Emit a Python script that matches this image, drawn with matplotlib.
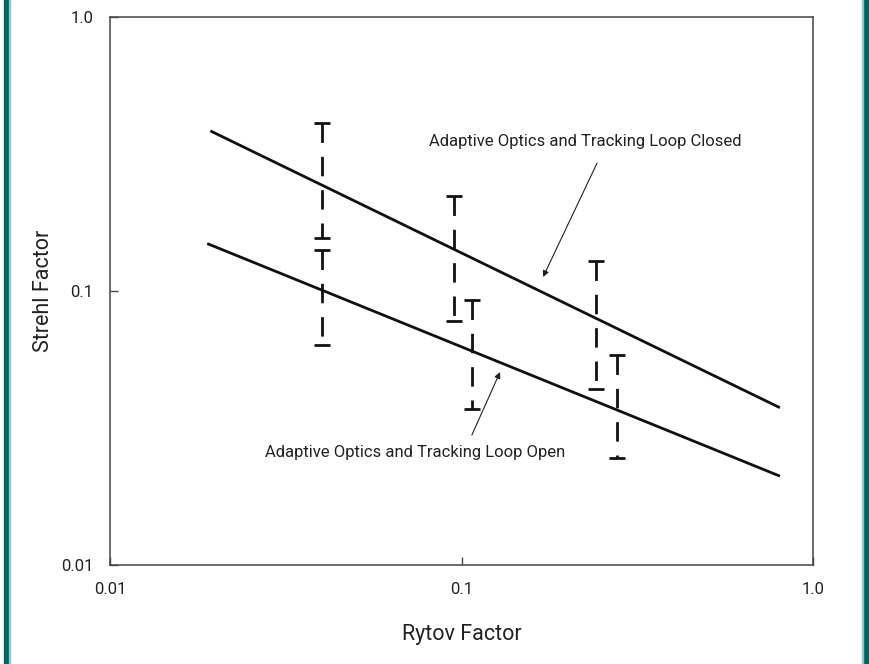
import numpy as np
import matplotlib.pyplot as plt
from matplotlib.patches import Rectangle
from matplotlib.ticker import FixedLocator, FixedFormatter, NullLocator

plt.rcParams['font.family'] = ['Roboto', 'DejaVu Sans']

# fitted lines (Rytov factor -> Strehl factor)
closed_x = [0.0193, 0.805]
closed_y = [0.384, 0.0375]
open_x = [0.0189, 0.805]
open_y = [0.149, 0.0211]

# measured ranges, loop closed
bar_closed_x = [0.0401, 0.0952, 0.2415]
bar_closed_lo = [0.156, 0.0777, 0.0439]
bar_closed_hi = [0.41, 0.222, 0.1286]

# measured ranges, loop open
bar_open_x = [0.0401, 0.107, 0.2767]
bar_open_lo = [0.0635, 0.0371, 0.0246]
bar_open_hi = [0.141, 0.0927, 0.0584]

ticks = [0.01, 0.1, 1.0]
tick_labels = ['0.01', '0.1', '1.0']

fig = plt.figure(figsize=(8.69, 6.64), dpi=100)
ax = fig.add_axes([0.1266, 0.1491, 0.8090, 0.8253])

ax.plot(closed_x, closed_y, color='#111111', lw=2.0, solid_capstyle='butt')
ax.plot(open_x, open_y, color='#111111', lw=2.0, solid_capstyle='butt')

for xs, lo, hi in [(bar_closed_x, bar_closed_lo, bar_closed_hi),
                   (bar_open_x, bar_open_lo, bar_open_hi)]:
    for x, l, h in zip(xs, lo, hi):
        ax.plot([x, x], [h, l], color='#111111', lw=2.0,
                linestyle=(0, (7, 5)), solid_capstyle='butt')
        ax.plot([x, x], [h, l], color='#111111', lw=0, marker='_',
                markersize=11, markeredgewidth=2.0)

ax.set_xscale('log')
ax.set_yscale('log')
ax.set_xlim(0.01, 1.0)
ax.set_ylim(0.01, 1.0)

for axis in (ax.xaxis, ax.yaxis):
    axis.set_major_locator(FixedLocator(ticks))
    axis.set_major_formatter(FixedFormatter(tick_labels))
    axis.set_minor_locator(NullLocator())

ax.tick_params(direction='in', length=6, width=1.0, color='#444444',
               labelsize=12, labelcolor='#222222')
ax.tick_params(axis='x', pad=12)
ax.tick_params(axis='y', pad=12)

for s in ax.spines.values():
    s.set_color('#444444')
    s.set_linewidth(1.1)

ax.set_xlabel('Rytov Factor', fontsize=15.5, color='#222222', labelpad=20)
ax.set_ylabel('Strehl Factor', fontsize=15.5, color='#222222', labelpad=5)

# annotations: text and arrows
ax.text(0.2244, 0.35, 'Adaptive Optics and Tracking Loop Closed',
        ha='center', va='center', fontsize=12, color='#222222')
ax.annotate('', xy=(0.1706, 0.1125), xytext=(0.243, 0.293),
            arrowprops=dict(arrowstyle='-|>', lw=0.8, color='#222222',
                            mutation_scale=9, shrinkA=0, shrinkB=0))
ax.text(0.0738, 0.0258, 'Adaptive Optics and Tracking Loop Open',
        ha='center', va='center', fontsize=12, color='#222222')
ax.annotate('', xy=(0.1287, 0.0506), xytext=(0.107, 0.0298),
            arrowprops=dict(arrowstyle='-|>', lw=0.8, color='#222222',
                            mutation_scale=9, shrinkA=0, shrinkB=0))

# teal frame bars on the left and right
W, H = 869.0, 664.0
fig.patches.append(Rectangle((4 / W, 0), 5 / W, 1, transform=fig.transFigure,
                             color='#006363', zorder=0))
fig.patches.append(Rectangle((9 / W, 0), 1.2 / W, 1, transform=fig.transFigure,
                             color='#8cc8c8', zorder=0))
fig.patches.append(Rectangle((863 / W, 0), 6 / W, 1, transform=fig.transFigure,
                             color='#006363', zorder=0))
fig.patches.append(Rectangle((861.8 / W, 0), 1.2 / W, 1, transform=fig.transFigure,
                             color='#8cc8c8', zorder=0))

fig.savefig('out.png', dpi=100)
